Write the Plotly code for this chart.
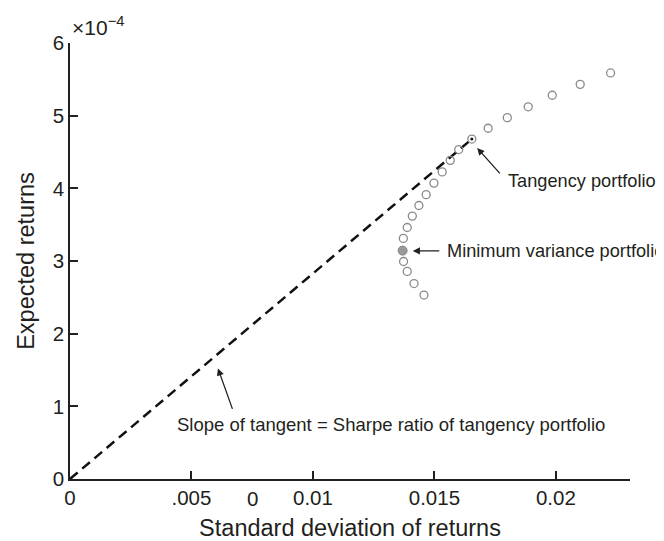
import plotly.graph_objects as go

# Efficient frontier (std dev, expected return)
frontier_sd = [0.01457, 0.01416, 0.01388, 0.01373, 0.01369, 0.01372, 0.01388, 0.01409,
               0.01436, 0.01466, 0.01498, 0.01532, 0.01565, 0.01600, 0.01654, 0.01721,
               0.01800, 0.01886, 0.01985, 0.02100, 0.02225]
frontier_ret = [2.531e-4, 2.690e-4, 2.857e-4, 2.993e-4, 3.143e-4, 3.311e-4, 3.461e-4, 3.618e-4,
                3.764e-4, 3.913e-4, 4.072e-4, 4.226e-4, 4.385e-4, 4.534e-4, 4.678e-4, 4.827e-4,
                4.973e-4, 5.122e-4, 5.281e-4, 5.431e-4, 5.588e-4]
minvar_sd = [0.01369]
minvar_ret = [3.143e-4]
tangency_sd = [0.01654]
tangency_ret = [4.678e-4]
tangent_line_sd = [0.0, 0.01654]
tangent_line_ret = [0.0, 4.678e-4]

x_tickvals = [0, 0.005, 0.01, 0.015, 0.02]
x_ticktext = ["0", ".005", "0.01", "0.015", "0.02"]
y_tickvals = [0, 1e-4, 2e-4, 3e-4, 4e-4, 5e-4, 6e-4]
y_ticktext = ["0", "1", "2", "3", "4", "5", "6"]

FONT = "Liberation Sans, Arial, Helvetica, sans-serif"
TXT = "#231f20"

fig = go.Figure()
fig.add_trace(go.Scatter(x=tangent_line_sd, y=tangent_line_ret, mode="lines",
                         line=dict(color="#111111", width=2.5, dash="10px,6px"),
                         showlegend=False, hoverinfo="skip"))
fig.add_trace(go.Scatter(x=frontier_sd, y=frontier_ret, mode="markers",
                         marker=dict(symbol="circle-open", size=8, color="#8a8a8a",
                                     line=dict(width=1.3, color="#8a8a8a")),
                         showlegend=False))
fig.add_trace(go.Scatter(x=minvar_sd, y=minvar_ret, mode="markers",
                         marker=dict(symbol="circle", size=9, color="#9a9a9a",
                                     line=dict(width=1, color="#8a8a8a")),
                         showlegend=False))
fig.add_trace(go.Scatter(x=tangency_sd, y=tangency_ret, mode="markers",
                         marker=dict(symbol="circle", size=3, color="#111111"),
                         showlegend=False))

ann_font = dict(family=FONT, size=18.2, color=TXT)
arrow = dict(showarrow=True, arrowhead=2, arrowsize=1.1, arrowwidth=1.3, arrowcolor=TXT,
             text="", xref="x", yref="y")

fig.add_annotation(x=0.01676, y=4.556e-4, ax=24, ay=27, **arrow)
fig.add_annotation(x=0.01795, y=4.103e-4, text="Tangency portfolio", showarrow=False,
                   xanchor="left", yanchor="middle", font=ann_font)
fig.add_annotation(x=0.01411, y=3.139e-4, ax=28, ay=0, **arrow)
fig.add_annotation(x=0.01545, y=3.139e-4, text="Minimum variance portfolio", showarrow=False,
                   xanchor="left", yanchor="middle", font=ann_font)
fig.add_annotation(x=0.00609, y=1.522e-4, ax=15, ay=42, **arrow)
fig.add_annotation(x=0.00431, y=0.751e-4, text="Slope of tangent = Sharpe ratio of tangency portfolio",
                   showarrow=False, xanchor="left", yanchor="middle",
                   font=dict(family=FONT, size=18.5, color=TXT))
# stray tick-label glyph
fig.add_annotation(x=0.0075, y=0, xref="x", yref="paper", text="0", showarrow=False,
                   xanchor="center", yanchor="top", yshift=-6,
                   font=dict(family=FONT, size=20.5, color=TXT))
# exponent label
fig.add_annotation(x=0, y=1, xref="paper", yref="paper", text="×10<sup>−4</sup>",
                   showarrow=False, xanchor="left", yanchor="bottom", yshift=2,
                   font=dict(family=FONT, size=21, color=TXT))

fig.update_xaxes(range=[0, 0.02305], tickvals=x_tickvals, ticktext=x_ticktext,
                 showline=True, linecolor=TXT, linewidth=1.5, ticks="inside", ticklen=8,
                 tickcolor=TXT, tickwidth=1.5, showgrid=False, zeroline=False,
                 tickfont=dict(family=FONT, size=20.5, color=TXT),
                 title=dict(text="Standard deviation of returns", standoff=11,
                            font=dict(family=FONT, size=23.5, color=TXT)))
fig.update_yaxes(range=[0, 6e-4], tickvals=y_tickvals, ticktext=y_ticktext,
                 showline=True, linecolor=TXT, linewidth=1.5, ticks="inside", ticklen=8,
                 tickcolor=TXT, tickwidth=1.5, showgrid=False, zeroline=False,
                 tickfont=dict(family=FONT, size=20.5, color=TXT),
                 title=dict(text="Expected returns", standoff=12,
                            font=dict(family=FONT, size=23.5, color=TXT)))
fig.update_layout(width=664, height=541, plot_bgcolor="white", paper_bgcolor="white",
                  margin=dict(l=62, r=42, t=35, b=64), font=dict(family=FONT, color=TXT))
fig.write_html("out.html")
